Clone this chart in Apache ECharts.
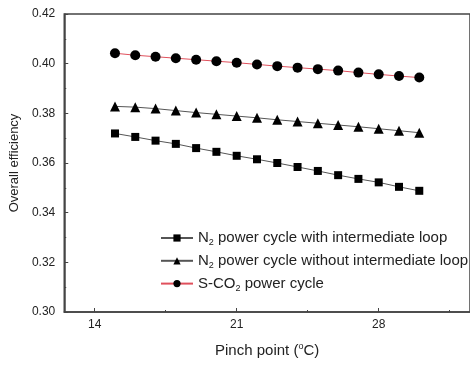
<!DOCTYPE html>
<html>
<head>
<meta charset="utf-8">
<script src="https://cdn.jsdelivr.net/npm/echarts@6/dist/echarts.min.js"></script>
<style>
    html, body { margin: 0; padding: 0; background: #fff; }
    #chart { width: 470px; height: 365px; }
</style>
</head>
<body>
<div id="chart"></div>
<script>
// Pinch point, °C
const pinchPoints = [15, 16, 17, 18, 19, 20, 21, 22, 23, 24, 25, 26, 27, 28, 29, 30];

// Overall efficiency
const n2WithLoop = [0.3719, 0.3705, 0.3690, 0.3677, 0.3660, 0.3645, 0.3629, 0.3615,
    0.3600, 0.3584, 0.3568, 0.3551, 0.3536, 0.3522, 0.3504, 0.3488];
const n2WithoutLoop = [0.3828, 0.3825, 0.3819, 0.3811, 0.3803, 0.3796, 0.3789, 0.3782,
    0.3774, 0.3767, 0.3760, 0.3753, 0.3746, 0.3738, 0.3730, 0.3722];
const sco2Cycle = [0.4042, 0.4034, 0.4028, 0.4022, 0.4016, 0.4010, 0.4004, 0.3997,
    0.3990, 0.3984, 0.3978, 0.3972, 0.3964, 0.3957, 0.3950, 0.3944];

const seriesNames = [
    'N2 power cycle with intermediate loop',
    'N2 power cycle without intermediate loop',
    'S-CO2 power cycle'
];
const xMajorTicks = [14, 21, 28];
const xMinorTicks = [17.5, 24.5, 31.5];

const font = '"Liberation Sans", Arial, sans-serif';
const textColor = '#222';
const axisColor = '#444';

function pairs(values) {
    return values.map((v, i) => [pinchPoints[i], v]);
}

// N2 / CO2 -> с подстрочным индексом
function withSub(name) {
    return name.replace(/(N|CO)2/, '$1{sub|2}');
}

const el = document.getElementById('chart');
const myChart = echarts.init(el, null, {renderer: 'canvas'});

const xBase = {
    type: 'value',
    min: 12.5,
    max: 32.5,
    position: 'bottom',
    splitLine: {show: false}
};

const option = {
    animation: false,
    textStyle: {fontFamily: font},
    grid: {
        left: 62,
        right: -4,
        top: 14,
        bottom: 49,
        show: true,
        borderColor: axisColor,
        borderWidth: 1.5,
        backgroundColor: 'transparent'
    },
    xAxis: [
        Object.assign({}, xBase, {
            name: 'Pinch point ({sup|o}C)',
            nameLocation: 'middle',
            nameGap: 30,
            nameTextStyle: {
                color: textColor,
                fontSize: 15,
                fontFamily: font,
                lineHeight: 18,
                rich: {
                    sup: {fontSize: 9, verticalAlign: 'top', lineHeight: 11}
                }
            },
            axisLine: {lineStyle: {color: axisColor, width: 1.5}},
            axisTick: {
                inside: true,
                length: 4,
                customValues: xMajorTicks,
                lineStyle: {color: axisColor}
            },
            axisLabel: {
                customValues: xMajorTicks,
                color: textColor,
                fontSize: 12,
                margin: 7,
                fontFamily: font
            }
        }),
        // Малые деления
        Object.assign({}, xBase, {
            axisLine: {show: false},
            axisTick: {
                inside: true,
                length: 2,
                customValues: xMinorTicks,
                lineStyle: {color: axisColor}
            },
            axisLabel: {show: false}
        })
    ],
    yAxis: {
        type: 'value',
        min: 0.30,
        max: 0.42,
        interval: 0.02,
        name: 'Overall efficiency',
        nameLocation: 'middle',
        nameGap: 37,
        nameTextStyle: {color: textColor, fontSize: 13, fontFamily: font},
        axisLine: {show: true, lineStyle: {color: axisColor, width: 1.5}},
        axisTick: {inside: true, length: 4, lineStyle: {color: axisColor}},
        minorTick: {show: true, splitNumber: 2, length: 2, lineStyle: {color: axisColor}},
        splitLine: {show: false},
        axisLabel: {
            color: textColor,
            fontSize: 12,
            margin: 9,
            fontFamily: font,
            formatter: v => v.toFixed(2)
        }
    },
    legend: {
        orient: 'vertical',
        left: 155,
        top: 224,
        itemWidth: 32,
        itemHeight: 9,
        itemGap: 4.8,
        textStyle: {
            color: textColor,
            fontSize: 15,
            lineHeight: 18,
            fontFamily: font,
            rich: {
                sub: {fontSize: 9, verticalAlign: 'bottom', lineHeight: 12}
            }
        },
        formatter: name => withSub(name),
        data: seriesNames
    },
    series: [
        {
            name: seriesNames[0],
            type: 'line',
            data: pairs(n2WithLoop),
            symbol: 'rect',
            symbolSize: 8,
            lineStyle: {color: '#555', width: 1},
            itemStyle: {color: '#000'}
        },
        {
            name: seriesNames[1],
            type: 'line',
            data: pairs(n2WithoutLoop),
            symbol: 'triangle',
            symbolSize: 10,
            lineStyle: {color: '#555', width: 1},
            itemStyle: {color: '#000'}
        },
        {
            name: seriesNames[2],
            type: 'line',
            data: pairs(sco2Cycle),
            symbol: 'circle',
            symbolSize: 10,
            lineStyle: {color: '#e0505c', width: 1},
            itemStyle: {color: '#000'}
        }
    ]
};
myChart.setOption(option);
</script>
</body>
</html>
